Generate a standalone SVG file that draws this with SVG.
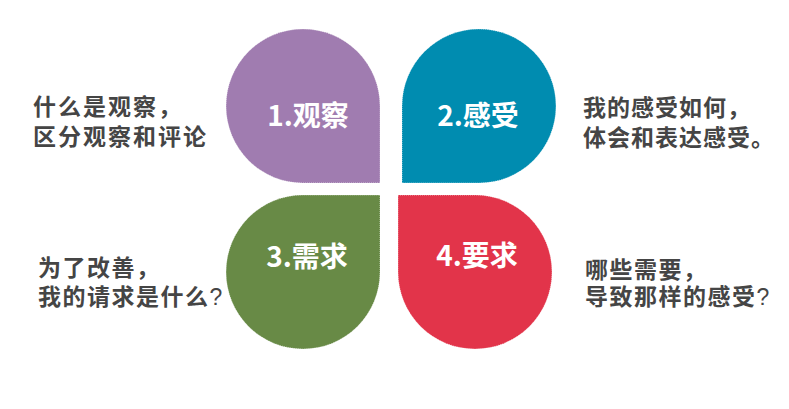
<svg xmlns="http://www.w3.org/2000/svg" width="789" height="409" viewBox="0 0 789 409">
<style>
.petal-label{font-family:"Noto Sans CJK SC","Liberation Sans",sans-serif;font-size:28px;font-weight:bold;fill:#ffffff;text-anchor:middle}
.side{font-family:"Noto Sans CJK SC","Liberation Sans",sans-serif;font-size:23px;font-weight:bold;fill:#454545;letter-spacing:1.5px}
.q{font-family:"Liberation Sans",sans-serif;font-weight:normal}
.edge{stroke:#ffffff;stroke-width:1;stroke-dasharray:1 1;stroke-opacity:0.6}
</style>
<rect width="789" height="409" fill="#ffffff"/>
<g id="node-observe">
<path class="edge" d="M380,183 L303,183 A77,77 0 1 1 380,106 Z" fill="#a07cb0"/>
<text class="petal-label" x="308" y="126">1.观察</text>
</g>
<g id="node-feel">
<path class="edge" d="M402,183 L402,106 A77,77 0 1 1 479,183 Z" fill="#008cb0"/>
<text class="petal-label" x="478" y="126">2.感受</text>
</g>
<g id="node-need">
<path class="edge" d="M380,195 L380,272 A77,77 0 1 1 303,195 Z" fill="#688a46"/>
<text class="petal-label" x="307" y="267">3.需求</text>
</g>
<g id="node-request">
<path class="edge" d="M398,195 L475,195 A77,77 0 1 1 398,272 Z" fill="#e2344a"/>
<text class="petal-label" x="477" y="266">4.要求</text>
</g>
<g id="text-observe">
<text class="side" x="33" y="115" style="letter-spacing:2px"><tspan x="33" y="115">什么是观察，</tspan><tspan x="33" y="145">区分观察和评论</tspan></text>
</g>
<g id="text-feel">
<text class="side" x="583" y="116" style="letter-spacing:1px"><tspan x="583" y="116">我的感受如何，</tspan><tspan x="583" y="146">体会和表达感受。</tspan></text>
</g>
<g id="text-need">
<text class="side" x="38" y="276"><tspan x="38" y="276">为了改善，</tspan><tspan x="38" y="305">我的请求是什么<tspan class="q">?</tspan></tspan></text>
</g>
<g id="text-request">
<text class="side" x="585" y="278"><tspan x="585" y="278">哪些需要，</tspan><tspan x="585" y="305">导致那样的感受<tspan class="q">?</tspan></tspan></text>
</g>
</svg>
